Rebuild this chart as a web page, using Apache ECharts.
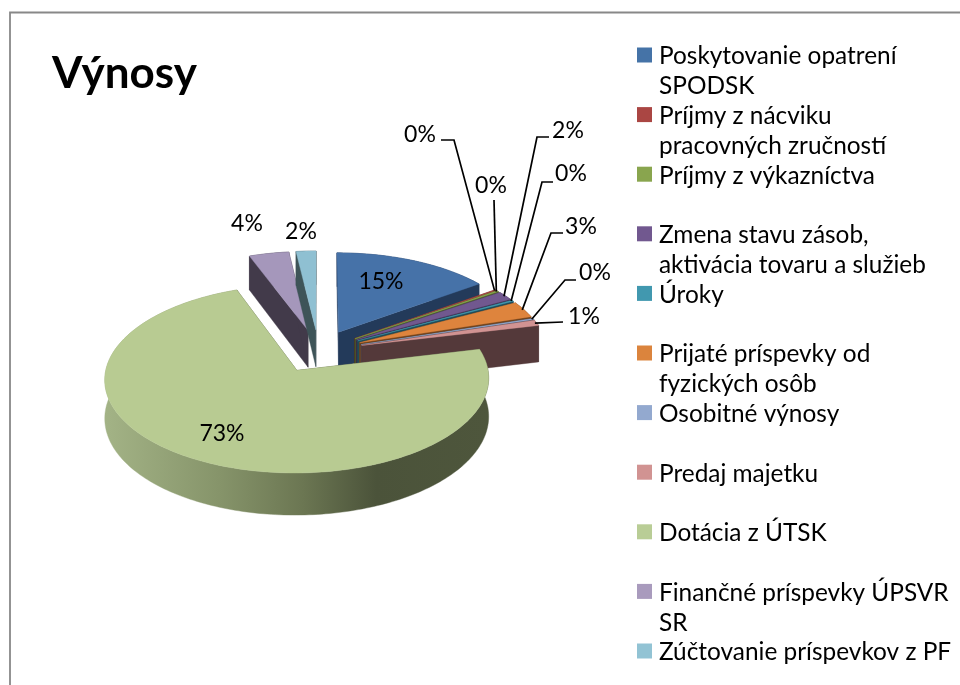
<!DOCTYPE html>
<html><head><meta charset="utf-8">
<style>html,body{margin:0;padding:0;background:#fff}#c{width:960px;height:685px}</style>
<script src="https://cdn.jsdelivr.net/npm/echarts@6/dist/echarts.min.js"></script>
</head><body><div id="c"></div>
<script>
const titleText = 'Výnosy';
const categories = ['Poskytovanie opatrení SPODSK','Príjmy z nácviku pracovných zručností','Príjmy z výkazníctva','Zmena stavu zásob, aktivácia tovaru a služieb','Úroky','Prijaté príspevky od fyzických osôb','Osobitné výnosy','Predaj majetku','Dotácia z ÚTSK','Finančné príspevky ÚPSVR SR','Zúčtovanie príspevkov z PF'];
const legendLines = [['Poskytovanie opatrení','SPODSK'],['Príjmy z nácviku','pracovných zručností'],['Príjmy z výkazníctva','\u00A0'],['Zmena stavu zásob,','aktivácia tovaru a služieb'],['Úroky','\u00A0'],['Prijaté príspevky od','fyzických osôb'],['Osobitné výnosy','\u00A0'],['Predaj majetku','\u00A0'],['Dotácia z ÚTSK','\u00A0'],['Finančné príspevky ÚPSVR','SR'],['Zúčtovanie príspevkov z PF','\u00A0']];
const values = [15.0,0.2,0.2,1.6,0.2,2.9,0.2,1.0,73.0,3.8,1.9];
const topColors = ['#4672A8','#A94643','#8AA64F','#71588F','#4198AF','#DE843D','#93A9CF','#D19392','#B8CB92','#A597BB','#8FC0D2'];
const sideColors = ['#233A5A','#54231F','#4A5A28','#3A2C4A','#204C58','#6E421E','#4A5468','#54393A','#4B533A','#423A4A','#3E5458'];
const legendColors = ['#4573A7','#AA4643','#89A54E','#71588F','#4198AF','#DB843D','#93A9CF','#D19392','#B9CD96','#A99BBD','#92C3D4'];
const paintOrder = [3,4,5,6,7,8,9,10,11,1,2]; // back to front, per category
// label centre, optional leader elbow and leader tail (screen layout of the annotations)
const labelLayout = [
 {c:[381,282]},
 {c:[420,135],elbow:[454,140],tail:[441,140]},
 {c:[491,186],elbow:[494,200]},
 {c:[568,131],elbow:[537,137],tail:[549,137]},
 {c:[571,174],elbow:[542,182],tail:[553,182]},
 {c:[581,227],elbow:[551,233],tail:[563,233]},
 {c:[595,273],elbow:[565,280],tail:[576,280]},
 {c:[584,317],elbow:[563,322]},
 {c:[222,434]},
 {c:[247,224]},
 {c:[301,232]}
];

const total = values.reduce((a,b)=>a+b,0);
const starts = []; values.reduce((s,v,i)=>{starts[i]=s;return s+v;},0);
// perspective projection of the pie
const P = {cx:318.5, cy:351, R:187.5, r:89.7, p:0.09, depth:37.5, explode:0.24};
function project(u,v,bottom){
  const k = 1/(1-P.p*v);
  return [P.cx+P.R*u*k, P.cy+P.r*v*k+(bottom?P.depth*k:0)];
}
function sliceInfo(i){
  const a0 = starts[i]/total*2*Math.PI, a1=(starts[i]+values[i])/total*2*Math.PI, m=(a0+a1)/2;
  const ou = P.explode*Math.sin(m), ov = -P.explode*Math.cos(m);
  const pt = (a,rad,b)=>project(ou+rad*Math.sin(a), ov-rad*Math.cos(a), b);
  return {a0,a1,m,pt};
}
function arc(info,bottom,rev){
  const n = Math.max(2,Math.ceil((info.a1-info.a0)/0.02)), out=[];
  for(let j=0;j<=n;j++){out.push(info.pt(info.a0+(info.a1-info.a0)*j/n,1,bottom));}
  return rev?out.reverse():out;
}
const rimGradient = {type:'linear',x:105,y:0,x2:487,y2:0,global:true,colorStops:[
 {offset:0,color:'#A3B386'},{offset:0.3,color:'#86946A'},{offset:0.52,color:'#6B7652'},{offset:0.71,color:'#4B533A'},{offset:1,color:'#4E563C'}]};

function renderSlice(i){
  const info = sliceInfo(i), kids=[];
  const poly=(pts,fill)=>kids.push({type:'polygon',shape:{points:pts},style:{fill:fill,stroke:fill,lineWidth:0.4},silent:true});
  const rimFill = i===8 ? rimGradient : sideColors[i];
  poly(arc(info,false).concat(arc(info,true,true)), rimFill);
  const ap=info.pt(0,0,false), ab=info.pt(0,0,true);
  poly([ap,ab,info.pt(info.a0,1,true),info.pt(info.a0,1,false)], sideColors[i]);
  poly([ap,ab,info.pt(info.a1,1,true),info.pt(info.a1,1,false)], sideColors[i]);
  poly([ap].concat(arc(info,false)), topColors[i]);
  return {type:'group',children:kids};
}
function renderLabel(params){
  const i=params.dataIndex, L=labelLayout[i], info=sliceInfo(i), kids=[];
  if(L.elbow){
    const pts=[];
    if(L.tail) pts.push(L.tail);
    pts.push(L.elbow);
    pts.push(info.pt(info.m,0.99,false));
    kids.push({type:'polyline',shape:{points:pts},style:{stroke:'#000',lineWidth:1.7,fill:null},silent:true});
  }
  kids.push({type:'text',style:{text:Math.round(values[i]/total*100)+'%',x:L.c[0],y:L.c[1],align:'center',verticalAlign:'middle',font:'23px Lato',fill:'#000'},silent:true});
  return {type:'group',children:kids};
}

const series = categories.map((name,i)=>({
  type:'custom',name,coordinateSystem:'none',z:paintOrder[i],silent:true,animation:false,
  itemStyle:{color:legendColors[i]},
  data:[values[i]],
  renderItem:()=>renderSlice(i)
}));
series.push({type:'custom',name:'labels',coordinateSystem:'none',z:20,silent:true,animation:false,
  data:values,renderItem:renderLabel});

const legendFont = {fontFamily:'Lato',fontSize:24.4,color:'#000'};
const chart = echarts.init(document.getElementById('c'),null,{renderer:'canvas'});
chart.setOption({
  animation:false,backgroundColor:'#fff',
  title:{text:titleText,left:47,top:47,textStyle:{fontFamily:'Lato',fontWeight:'bold',fontSize:44,color:'#000'}},
  legend:{data:categories,orient:'vertical',left:637,top:13,height:900,padding:0,itemWidth:15,itemHeight:15,itemGap:-25.9,icon:'rect',selectedMode:false,
    formatter:n=>{const l=legendLines[categories.indexOf(n)];return '{t|\u00A0}\n{m|'+l[0]+'}\n{m|'+l[1]+'}';},
    textStyle:Object.assign({},legendFont,{padding:[0,0,0,2],rich:{t:Object.assign({},legendFont,{lineHeight:33}),m:Object.assign({},legendFont,{lineHeight:30})}})},
  graphic:[{type:'polyline',shape:{points:[[10,685],[10,12.5],[960,12.5]]},style:{stroke:'#888',lineWidth:1.8,fill:null},silent:true,z:30}],
  series
});
</script></body></html>
